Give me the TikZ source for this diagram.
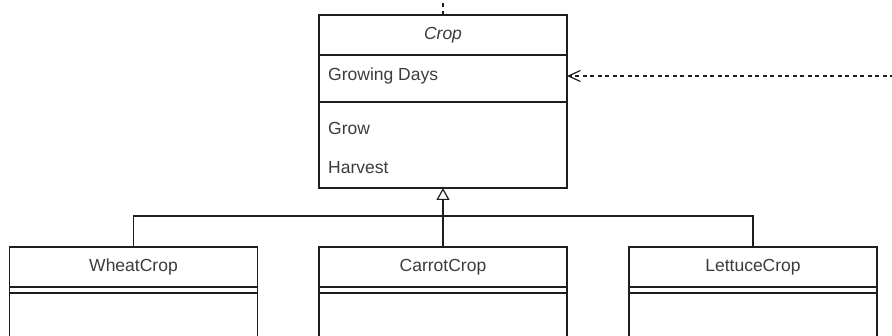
\documentclass[tikz,border=0pt]{standalone}
\usepackage{fontspec}
\setmainfont{Liberation Sans}
\usetikzlibrary{arrows.meta}
\definecolor{ink}{RGB}{30,30,30}
\definecolor{txt}{RGB}{60,60,60}
\tikzset{
  umlbox/.style={draw=ink, line width=1.2pt, rectangle, minimum width=248pt, inner sep=0pt, outer sep=0pt, fill=white},
  lbl/.style={font=\fontsize{17.5}{21}\selectfont, text=txt, inner sep=0pt},
  link/.style={draw=ink, line width=1.2pt},
  dep/.style={link, dash pattern=on 4pt off 3.5pt}
}
\begin{document}
\begin{tikzpicture}[x=1pt, y=-1pt]
\useasboundingbox (0,0) rectangle (892,336);
\begin{scope}
\clip (0,0) rectangle (892,336);

% abstract base class
\node[umlbox, minimum height=40pt] (crophead) at (443,35) {};
\node[lbl, font=\fontsize{17.5}{21}\selectfont\itshape] (cropname) at (crophead.center) {Crop};
\node[umlbox, minimum height=47pt, anchor=north] (cropattr) at (crophead.south) {};
\node[lbl, anchor=west] (attr1) at (328,76) {Growing Days};
\node[umlbox, minimum height=86pt, anchor=north] (cropops) at (cropattr.south) {};
\node[lbl, anchor=west] (op1) at (328,128) {Grow};
\node[lbl, anchor=west] (op2) at (328,168) {Harvest};

% subclasses
\foreach \nm/\cx/\title in {wheat/133.5/WheatCrop, carrot/443/CarrotCrop, lettuce/753/LettuceCrop}{
  \node[umlbox, minimum height=40pt] (\nm) at (\cx,267) {};
  \node[lbl] (\nm name) at (\nm.center) {\title};
  \node[umlbox, minimum height=6pt, anchor=north] (\nm attr) at (\nm.south) {};
  \node[umlbox, minimum height=60pt, anchor=north] (\nm ops) at (\nm attr.south) {};
}

% generalisation
\coordinate (join) at (443,216);
\draw[link] (wheat.north) |- (join);
\draw[link] (lettuce.north) |- (join);
\draw[link, -{Triangle[open, length=12pt, width=13pt, line width=1.2pt]}] (carrot.north) -- (cropops.south);

% dependencies
\coordinate (topend) at (443,-2);
\draw[dep] (crophead.north) -- (topend);
\coordinate (rightend) at (894,76);
\draw[dep, -{Straight Barb[length=12pt, width=11pt, line width=1.2pt]}] (rightend) -- (cropattr.east |- rightend);
\end{scope}
\end{tikzpicture}
\end{document}
